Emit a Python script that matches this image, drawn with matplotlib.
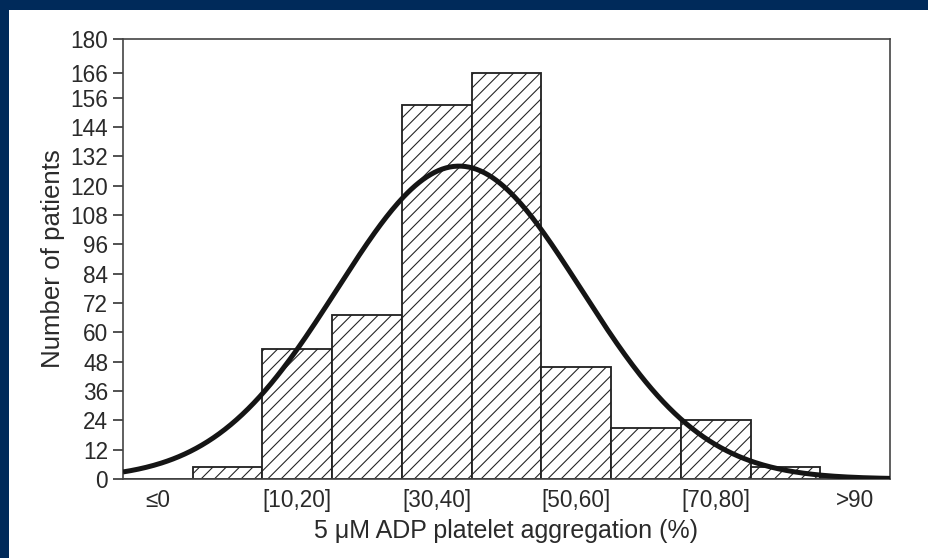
import matplotlib
matplotlib.use('Agg')
import matplotlib.pyplot as plt
import numpy as np
from matplotlib.patches import Rectangle

plt.rcParams['font.family'] = ['Liberation Sans', 'DejaVu Sans']
plt.rcParams['hatch.linewidth'] = 0.65
plt.rcParams['hatch.color'] = '#2a2a2a'

# bins of platelet aggregation (%), one slot per bin
bins = ['≤0', '[0,10]', '[10,20]', '[20,30]', '[30,40]', '[40,50]',
        '[50,60]', '[60,70]', '[70,80]', '[80,90]', '>90']
counts = [0, 5, 53, 67, 153, 166, 46, 21, 24, 5, 1]

# labelled bins on the x axis
tick_bins = ['≤0', '[10,20]', '[30,40]', '[50,60]', '[70,80]', '>90']
y_ticks = [0, 12, 24, 36, 48, 60, 72, 84, 96, 108, 120, 132, 144, 156, 166, 180]

# fitted normal curve
fit_mean = 38.2   # %
fit_sd = 17.5     # %
fit_peak = 128    # patients

dpi = 120
fig = plt.figure(figsize=(928 / dpi, 558 / dpi), dpi=dpi, facecolor='white')

# dark blue frame on top and left
navy = '#002a5a'
fig.patches.append(Rectangle((0, 1 - 10 / 558), 1, 10 / 558, transform=fig.transFigure,
                             facecolor=navy, edgecolor='none', zorder=0))
fig.patches.append(Rectangle((0, 0), 9 / 928, 1, transform=fig.transFigure,
                             facecolor=navy, edgecolor='none', zorder=0))

ax = fig.add_axes([123 / 928, 1 - 479 / 558, (890 - 123) / 928, (479 - 39) / 558])

x = np.arange(len(bins))
ax.bar(x, counts, width=1.0, facecolor='white', edgecolor='#222222',
       linewidth=1.1, hatch='///', zorder=2)

# slot i centre is at (i - 1) * 10 + 5 percent
xs = np.linspace(-0.5, 10.5, 400)
pct = (xs - 0.5) * 10
curve = fit_peak * np.exp(-(pct - fit_mean) ** 2 / (2 * fit_sd ** 2))
ax.plot(xs, curve, color='#151515', linewidth=3.0, zorder=3, solid_capstyle='butt')

ax.set_xlim(-0.5, 10.5)
ax.set_ylim(0, 180)
ax.set_yticks(y_ticks)
ax.set_xticks([bins.index(b) for b in tick_bins])
ax.set_xticklabels(tick_bins)

for s in ax.spines.values():
    s.set_color('#444444')
    s.set_linewidth(1.0)

ax.tick_params(axis='y', length=6, width=1.0, color='#333333', pad=3,
               labelsize=13.5, labelcolor='#2a2a2a')
ax.tick_params(axis='x', length=0, pad=6, labelsize=13.5, labelcolor='#2a2a2a')

ax.set_ylabel('Number of patients', fontsize=15.5, color='#2a2a2a', labelpad=3)
ax.set_xlabel('5 \u03bcM ADP platelet aggregation (%)', fontsize=15,
              color='#2a2a2a', labelpad=4)

fig.savefig('out.png', dpi=dpi, facecolor='white')
